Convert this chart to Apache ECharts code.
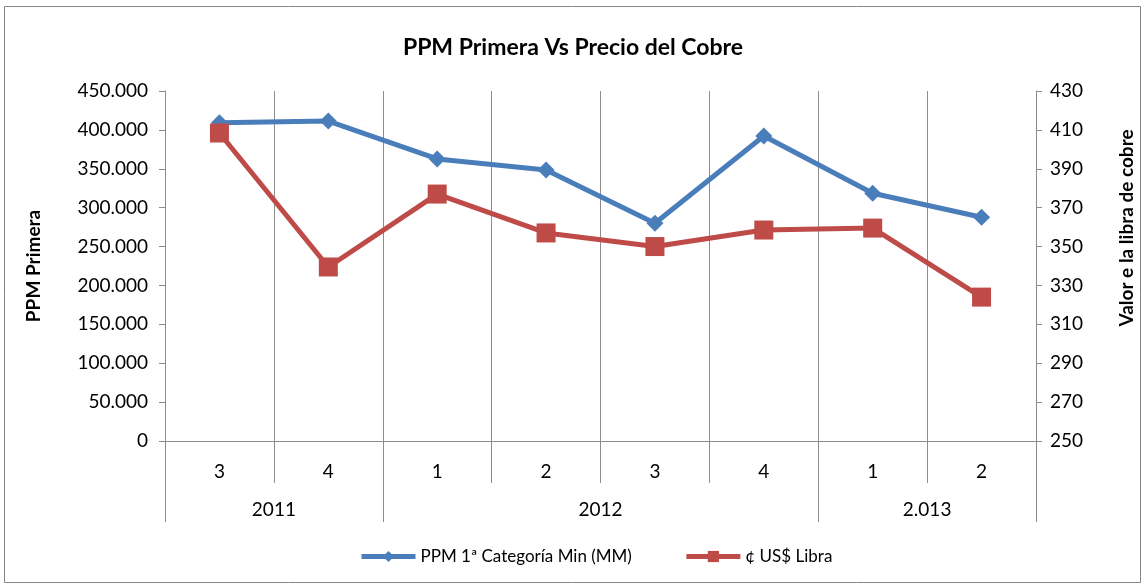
<!DOCTYPE html>
<html>
<head>
<meta charset="utf-8">
<script src="https://cdn.jsdelivr.net/npm/echarts@6/dist/echarts.min.js"></script>
<style>
  html, body { margin: 0; padding: 0; background: #fff; }
  #chart { width: 1146px; height: 588px; }
</style>
</head>
<body>
<div id="chart"></div>
<script>
// trimestres y años (dos niveles en el eje x)
const quarters = ['3', '4', '1', '2', '3', '4', '1', '2'];
const years = ['2011', '2012', '2.013'];
const yearSpans = [2, 4, 2];

// PPM 1ª Categoría Min (MM), eje izquierdo
const ppm = [409200, 411400, 362600, 348400, 279900, 392100, 318500, 287600];
// ¢ US$ Libra, eje derecho
const cobre = [408.4, 339.5, 377, 357, 350, 358.5, 359.5, 324];

const leftTicks = { min: 0, max: 450000, step: 50000 };
const rightTicks = { min: 250, max: 430, step: 20 };

// posiciones de etiquetas y separadores de años, a partir de los spans
let yearLabelPos = [], yearTickPos = [0], acc = 0;
yearSpans.forEach(function (s) {
    yearLabelPos.push(acc + s / 2);
    acc += s;
    yearTickPos.push(acc);
});

function miles(v) {
    return String(v).replace(/\B(?=(\d{3})+(?!\d))/g, '.');
}

const font = 'Lato, "Liberation Sans", sans-serif';
const gray = '#8c8c8c';
const blue = '#4a7ebb', red = '#be4b48';

var chart = echarts.init(document.getElementById('chart'));
var option = {
    animation: false,
    textStyle: { fontFamily: font, color: '#000' },
    graphic: [{
        type: 'rect',
        shape: { x: 4.5, y: 6.5, width: 1136, height: 576 },
        style: { fill: 'none', stroke: '#868686', lineWidth: 1 },
        silent: true
    }],
    title: {
        text: 'PPM Primera Vs Precio del Cobre',
        left: 'center',
        top: 31,
        textStyle: { fontFamily: font, fontSize: 23, fontWeight: 'bold', color: '#000' }
    },
    legend: {
        bottom: 18,
        left: 354,
        itemWidth: 54,
        itemHeight: 14,
        itemGap: 52,
        textStyle: { fontFamily: font, fontSize: 17, color: '#000' },
        data: [
            { name: 'PPM 1ª Categoría Min (MM)', lineStyle: { width: 5, color: blue } },
            { name: '¢ US$ Libra', lineStyle: { width: 5, color: red } }
        ]
    },
    grid: { left: 165, right: 110, top: 91, bottom: 147, containLabel: false, outerBoundsMode: 'none' },
    xAxis: [{
        type: 'category',
        data: quarters,
        boundaryGap: true,
        axisLine: { lineStyle: { color: gray, width: 1 } },
        axisTick: { show: true, interval: 0, length: 42, lineStyle: { color: gray } },
        axisLabel: { interval: 0, margin: 21, fontSize: 19, color: '#000', fontFamily: font },
        splitLine: { show: true, interval: 0, lineStyle: { color: gray, width: 1 } }
    }, {
        type: 'value',
        position: 'bottom',
        min: 0,
        max: quarters.length,
        axisLine: { show: false },
        axisTick: { show: true, customValues: yearTickPos, length: 81, lineStyle: { color: gray } },
        axisLabel: {
            customValues: yearLabelPos,
            margin: 59,
            fontSize: 19,
            color: '#000',
            fontFamily: font,
            formatter: function (v) {
                let i = yearLabelPos.indexOf(v);
                return i >= 0 ? years[i] : '';
            }
        },
        splitLine: { show: false }
    }],
    yAxis: [{
        type: 'value',
        name: 'PPM Primera',
        nameLocation: 'middle',
        nameGap: 122,
        nameRotate: 90,
        nameTextStyle: { fontFamily: font, fontSize: 19, fontWeight: 'bold', color: '#000' },
        min: leftTicks.min,
        max: leftTicks.max,
        interval: leftTicks.step,
        axisLine: { show: true, lineStyle: { color: gray } },
        axisTick: { show: true, length: 6, lineStyle: { color: gray } },
        axisLabel: { margin: 17, fontSize: 19, color: '#000', fontFamily: font, formatter: miles },
        splitLine: { show: false }
    }, {
        type: 'value',
        name: 'Valor e la libra de cobre',
        nameLocation: 'middle',
        nameGap: 81,
        nameRotate: 90,
        nameTextStyle: { fontFamily: font, fontSize: 19, fontWeight: 'bold', color: '#000', padding: [0, 0, 0, 76] },
        position: 'right',
        min: rightTicks.min,
        max: rightTicks.max,
        interval: rightTicks.step,
        axisLine: { show: true, lineStyle: { color: gray } },
        axisTick: { show: true, length: 6, lineStyle: { color: gray } },
        axisLabel: { margin: 14, fontSize: 19, color: '#000', fontFamily: font },
        splitLine: { show: false }
    }],
    series: [{
        name: 'PPM 1ª Categoría Min (MM)',
        type: 'line',
        data: ppm,
        yAxisIndex: 0,
        symbol: 'diamond',
        symbolSize: 17,
        itemStyle: { color: blue },
        lineStyle: { color: blue, width: 5 }
    }, {
        name: '¢ US$ Libra',
        type: 'line',
        data: cobre,
        yAxisIndex: 1,
        symbol: 'rect',
        symbolSize: 19,
        itemStyle: { color: red },
        lineStyle: { color: red, width: 5 }
    }]
};
chart.setOption(option);
</script>
</body>
</html>
